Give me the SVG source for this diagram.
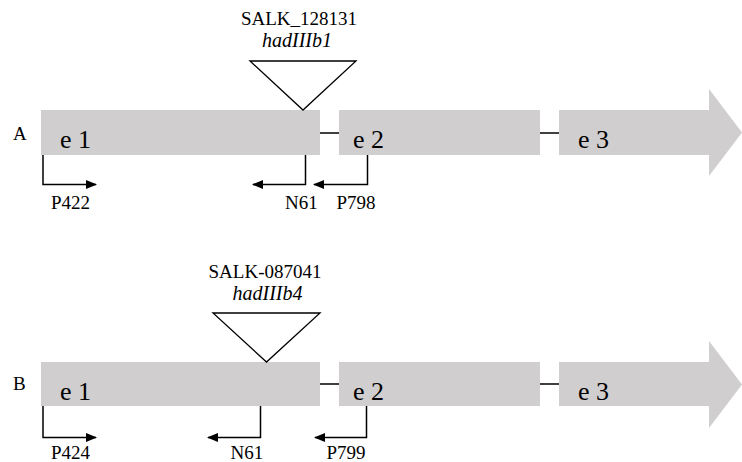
<svg xmlns="http://www.w3.org/2000/svg" width="742" height="462" viewBox="0 0 742 462">
<style>
.exon{fill:#d0cece;stroke:none}
.tri{fill:#fff;stroke:#000;stroke-width:1.3}
.ln{fill:none;stroke:#000;stroke-width:1.5}
text{font-family:'Liberation Serif','Times New Roman','DejaVu Serif',serif;fill:#000;font-size:19px}
.it{font-style:italic;font-size:20px}
.ex{font-size:26px}
</style>
<defs>
<marker id="ah" markerWidth="11" markerHeight="9" refX="10" refY="4.5" orient="auto" markerUnits="userSpaceOnUse">
<path d="M0,0 L11,4.5 L0,9 Z" fill="#000"/>
</marker>
</defs>
<rect width="742" height="462" fill="#fff"/>
<g id="connectors">
<line class="ln" x1="320" y1="133" x2="339" y2="133"/>
<line class="ln" x1="540" y1="133" x2="559" y2="133"/>
<line class="ln" x1="320" y1="384" x2="339" y2="384"/>
<line class="ln" x1="540" y1="384" x2="559" y2="384"/>
<path class="ln" d="M43,155 V184.5 H96" marker-end="url(#ah)"/>
<path class="ln" d="M305.5,155 V184.5 H253" marker-end="url(#ah)"/>
<path class="ln" d="M367.5,155 V184.5 H314" marker-end="url(#ah)"/>
<path class="ln" d="M43,406 V437.5 H96" marker-end="url(#ah)"/>
<path class="ln" d="M260.5,406 V437.5 H208" marker-end="url(#ah)"/>
<path class="ln" d="M366.5,406 V437.5 H315" marker-end="url(#ah)"/>
</g>
<g id="labelA"><text x="13" y="140">A</text></g>
<g id="A-e1"><rect class="exon" x="41" y="110" width="279" height="45"/><text class="ex" x="60" y="148">e 1</text></g>
<g id="A-e2"><rect class="exon" x="339" y="110" width="201" height="45"/><text class="ex" x="353" y="148">e 2</text></g>
<g id="A-e3"><polygon class="exon" points="559,110 709,110 709,89 742,132.5 709,176 709,155 559,155"/><text class="ex" x="578" y="148">e 3</text></g>
<g id="A-insert"><polygon class="tri" points="250,61 356,61 303,110"/><text x="299" y="25" text-anchor="middle">SALK_128131</text><text class="it" x="297" y="47" text-anchor="middle">hadIIIb1</text></g>
<g id="A-P422"><text x="51" y="209">P422</text></g>
<g id="A-N61"><text x="285" y="209">N61</text></g>
<g id="A-P798"><text x="336.5" y="209">P798</text></g>
<g id="labelB"><text x="13" y="390">B</text></g>
<g id="B-e1"><rect class="exon" x="41" y="362" width="279" height="44"/><text class="ex" x="60" y="400">e 1</text></g>
<g id="B-e2"><rect class="exon" x="339" y="362" width="201" height="44"/><text class="ex" x="353" y="400">e 2</text></g>
<g id="B-e3"><polygon class="exon" points="559,362 709,362 709,341 742,384.5 709,428 709,406 559,406"/><text class="ex" x="578" y="400">e 3</text></g>
<g id="B-insert"><polygon class="tri" points="213,313 320,313 266.5,362"/><text x="265" y="278" text-anchor="middle">SALK-087041</text><text class="it" x="267.5" y="300" text-anchor="middle">hadIIIb4</text></g>
<g id="B-P424"><text x="51" y="459">P424</text></g>
<g id="B-N61"><text x="230.5" y="459">N61</text></g>
<g id="B-P799"><text x="326.5" y="459">P799</text></g>
</svg>
